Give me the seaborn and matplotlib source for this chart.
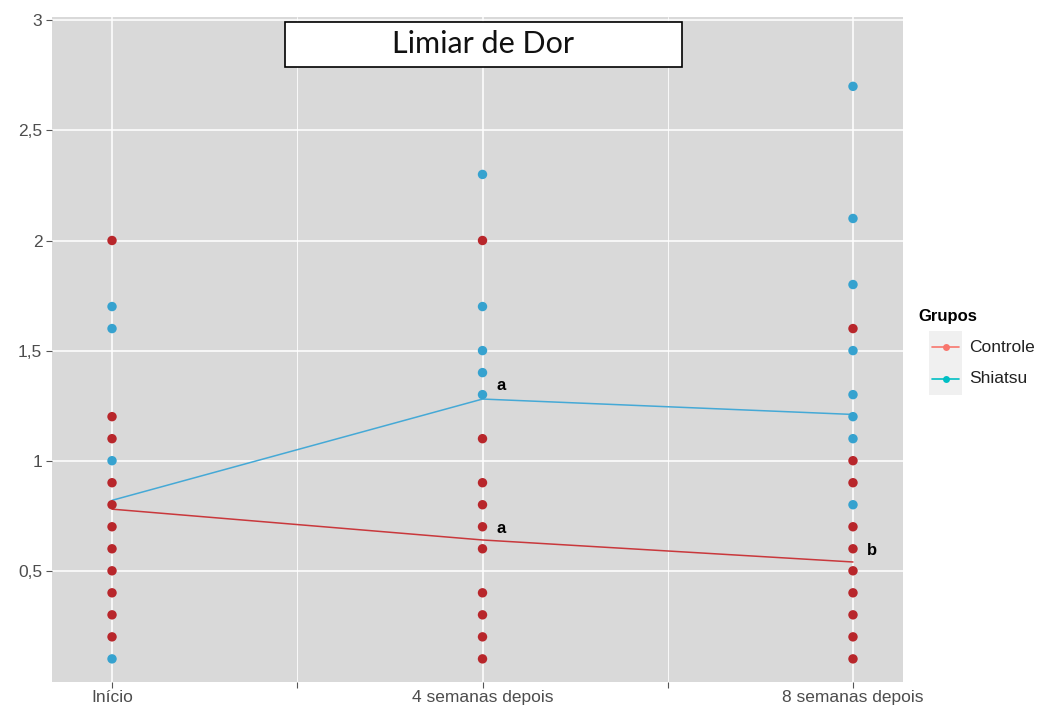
import numpy as np
import pandas as pd
import matplotlib
matplotlib.use("Agg")
import matplotlib.pyplot as plt
from matplotlib.patches import Rectangle
from matplotlib.lines import Line2D
import seaborn as sns

# ---- data -------------------------------------------------------------
momentos = ["Início", "4 semanas depois", "8 semanas depois"]

controle_inicio = [2.0, 1.2, 1.1, 0.9, 0.8, 0.7, 0.6, 0.5, 0.4, 0.3, 0.2]
controle_4sem = [2.0, 1.1, 0.9, 0.8, 0.7, 0.6, 0.4, 0.3, 0.2, 0.1]
controle_8sem = [1.6, 1.0, 0.9, 0.7, 0.6, 0.5, 0.4, 0.3, 0.2, 0.1]

shiatsu_inicio = [1.7, 1.6, 1.0, 0.1]
shiatsu_4sem = [2.3, 1.7, 1.5, 1.4, 1.3]
shiatsu_8sem = [2.7, 2.1, 1.8, 1.5, 1.3, 1.2, 1.1, 0.8]

media_controle = [0.78, 0.64, 0.54]
media_shiatsu = [0.82, 1.28, 1.21]

letras_shiatsu = ["", "a", ""]
letras_controle = ["", "a", "b"]

grupos = ["Controle", "Shiatsu"]
y_ticks = [0.5, 1.0, 1.5, 2.0, 2.5, 3.0]
y_ticklabels = ["0,5", "1", "1,5", "2", "2,5", "3"]

# ---- long tables --------------------------------------------------------
rows = []
for grupo, series in (("Shiatsu", [shiatsu_inicio, shiatsu_4sem, shiatsu_8sem]),
                      ("Controle", [controle_inicio, controle_4sem, controle_8sem])):
    for i, vals in enumerate(series):
        for v in vals:
            rows.append({"Grupo": grupo, "pos": i, "Limiar": v})
pontos = pd.DataFrame(rows)

medias = pd.DataFrame({
    "Grupo": ["Controle"] * 3 + ["Shiatsu"] * 3,
    "pos": list(range(3)) * 2,
    "Limiar": media_controle + media_shiatsu,
})

# ---- style --------------------------------------------------------------
W, H, DPI = 1043, 710, 100
sns.set_theme(style="darkgrid", rc={
    "axes.facecolor": "#D9D9D9",
    "grid.color": "white",
    "figure.facecolor": "white",
})
plt.rcParams["font.family"] = ["Liberation Sans", "DejaVu Sans"]

cor_pontos = {"Controle": "#B8262B", "Shiatsu": "#36A2CF"}
cor_linhas = {"Controle": "#C9383C", "Shiatsu": "#45A9D6"}
cor_legenda = {"Controle": "#F8766D", "Shiatsu": "#00BFC4"}

fig = plt.figure(figsize=(W / DPI, H / DPI), dpi=DPI)
ax = fig.add_axes([52 / W, 28 / H, 851 / W, 665 / H])

sns.lineplot(data=medias, x="pos", y="Limiar", hue="Grupo", palette=cor_linhas,
             linewidth=1.1, legend=False, ax=ax, zorder=2)
sns.scatterplot(data=pontos, x="pos", y="Limiar", hue="Grupo", palette=cor_pontos,
                s=46, linewidth=0, legend=False, ax=ax, zorder=3)

# significance letters next to the group means
for i in range(3):
    if letras_shiatsu[i]:
        ax.annotate(letras_shiatsu[i], (i, media_shiatsu[i]), xytext=(10, 10),
                    textcoords="offset points", fontsize=12, fontweight="bold",
                    color="black", ha="left", va="center")
    if letras_controle[i]:
        ax.annotate(letras_controle[i], (i, media_controle[i]), xytext=(10, 8),
                    textcoords="offset points", fontsize=12, fontweight="bold",
                    color="black", ha="left", va="center")

ax.set_xlim(-0.162, 2.135)
ax.set_ylim(-0.005, 3.015)
ax.set_xticks(range(3))
ax.set_xticklabels(momentos)
ax.set_xticks([0.5, 1.5], minor=True)
ax.set_yticks(y_ticks)
ax.set_yticklabels(y_ticklabels)
ax.grid(True, which="major", color="white", linewidth=1.1)
ax.grid(True, which="minor", axis="x", color="white", linewidth=0.6)
ax.set_xlabel("")
ax.set_ylabel("")
for s in ax.spines.values():
    s.set_visible(False)
ax.tick_params(axis="both", which="both", bottom=True, left=True)
ax.tick_params(axis="both", which="major", length=4, width=0.8, color="#555555",
               labelcolor="#4D4D4D", labelsize=12.5, pad=3)
ax.tick_params(axis="x", which="minor", length=4, width=0.8, color="#555555")
ax.tick_params(axis="x", pad=2)

# title box
fig.add_artist(Rectangle((285 / W, 1 - 67 / H), 397 / W, 45 / H,
                         transform=fig.transFigure, facecolor="white",
                         edgecolor="black", linewidth=1.2, zorder=5))
fig.text(483.5 / W, 1 - 44 / H, "Limiar de Dor", ha="center", va="center",
         fontsize=22, family=["Lato", "DejaVu Sans"], color="#111111", zorder=6)

# legend
fig.text(918 / W, 1 - 316 / H, "Grupos", ha="left", va="center",
         fontsize=12, fontweight="bold", color="black")
for k, g in enumerate(grupos):
    yc = 347 + 32 * k
    fig.add_artist(Rectangle((929 / W, 1 - (yc + 16) / H), 33 / W, 32 / H,
                             transform=fig.transFigure, facecolor="#F0F0F0",
                             edgecolor="none"))
    fig.add_artist(Line2D([932 / W, 959 / W], [1 - yc / H, 1 - yc / H],
                          transform=fig.transFigure, color=cor_legenda[g],
                          linewidth=1.2))
    fig.add_artist(Line2D([945.5 / W], [1 - yc / H], transform=fig.transFigure,
                          color=cor_legenda[g], marker="o", markersize=5,
                          linestyle="none", markeredgewidth=0))
    fig.text(969 / W, 1 - yc / H, g, ha="left", va="center", fontsize=12.5,
             color="#222222")

fig.savefig("out.png", dpi=DPI)
